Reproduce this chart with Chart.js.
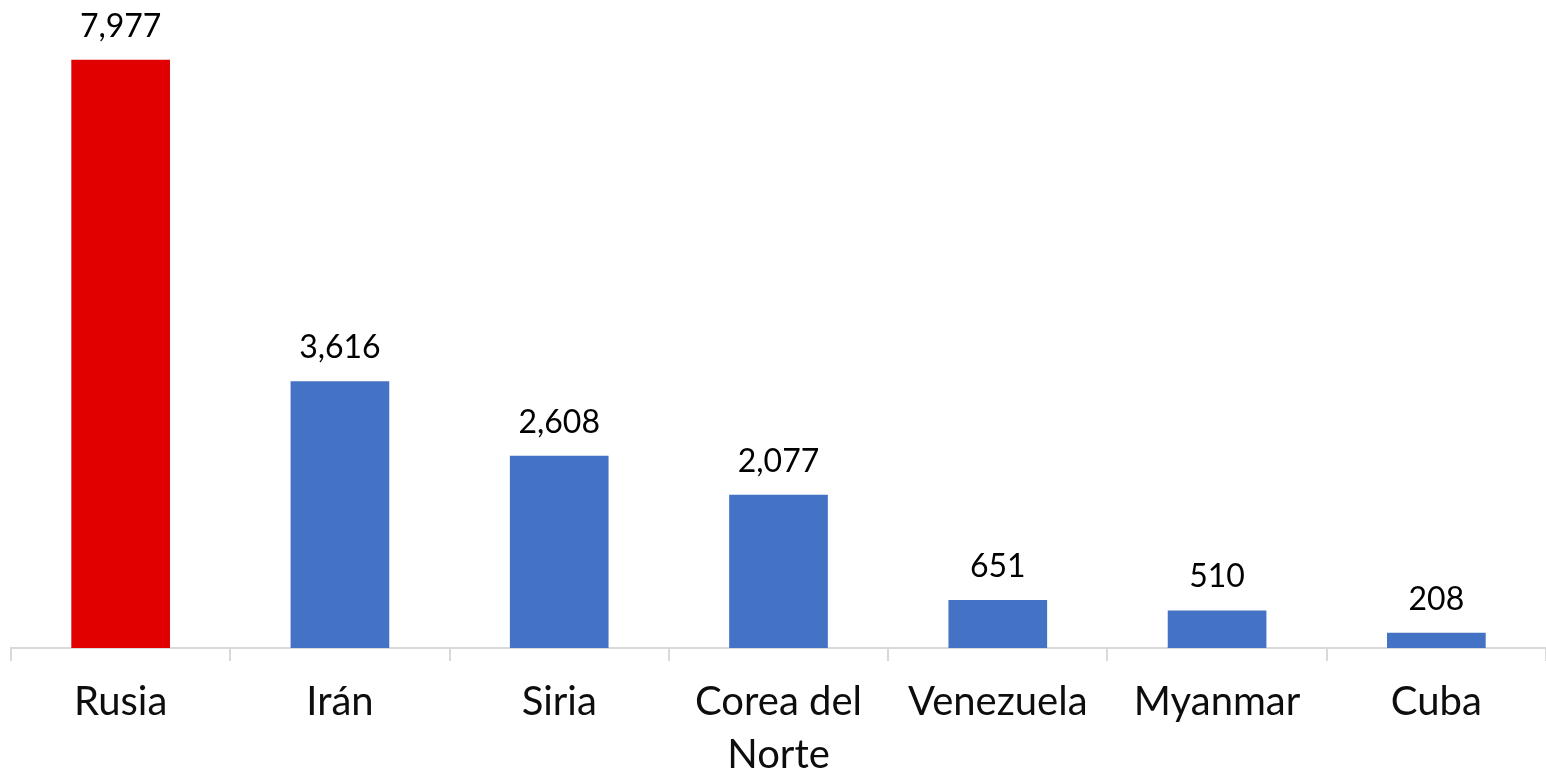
<!DOCTYPE html>
<html>
<head>
<meta charset="utf-8">
<script src="https://cdn.jsdelivr.net/npm/chart.js@4.4.1/dist/chart.umd.min.js"></script>
<style>
  html, body { margin: 0; padding: 0; background: #fff; }
  #wrap { width: 1546px; height: 773px; position: relative; }
</style>
</head>
<body>
<div id="wrap"><canvas id="chart"></canvas></div>
<script>
// Countries and values
const countries = ["Rusia", "Irán", "Siria", ["Corea del", "Norte"], "Venezuela", "Myanmar", "Cuba"];
const values = [7977, 3616, 2608, 2077, 651, 510, 208];
const barColors = ["#E00000", "#4472C4", "#4472C4", "#4472C4", "#4472C4", "#4472C4", "#4472C4"];

const FONT = "Lato, 'Open Sans', sans-serif";

// simple value labels above each bar
const valueLabels = {
  id: "valueLabels",
  afterDatasetsDraw(chart) {
    const ctx = chart.ctx;
    const meta = chart.getDatasetMeta(0);
    ctx.save();
    ctx.font = "32px " + FONT;
    ctx.fillStyle = "#000";
    ctx.textAlign = "center";
    ctx.textBaseline = "alphabetic";
    meta.data.forEach((bar, i) => {
      ctx.fillText(values[i].toLocaleString("en-US"), bar.x, bar.y - 23);
    });
    ctx.restore();
  }
};

new Chart(document.getElementById("chart"), {
  type: "bar",
  data: {
    labels: countries,
    datasets: [{
      data: values,
      backgroundColor: barColors,
      borderWidth: 0,
      barPercentage: 0.45,
      categoryPercentage: 1.0
    }]
  },
  options: {
    responsive: true,
    maintainAspectRatio: false,
    animation: false,
    layout: { padding: { top: 58, left: 11, right: 0, bottom: 0 } },
    plugins: {
      legend: { display: false },
      tooltip: { enabled: false }
    },
    scales: {
      y: { display: false, min: 0, max: 8000 },
      x: {
        grid: {
          drawOnChartArea: false,
          drawTicks: true,
          tickLength: 13,
          color: "#d9d9d9",
          lineWidth: 2,
          offset: true
        },
        border: { color: "#d9d9d9", width: 2 },
        ticks: {
          color: "#0d0d0d",
          font: { family: FONT, size: 40, lineHeight: 1.33 },
          padding: 14,
          maxRotation: 0,
          autoSkip: false
        },
        afterFit(scale) { scale.height = 125; }
      }
    }
  },
  plugins: [valueLabels]
});
</script>
</body>
</html>
